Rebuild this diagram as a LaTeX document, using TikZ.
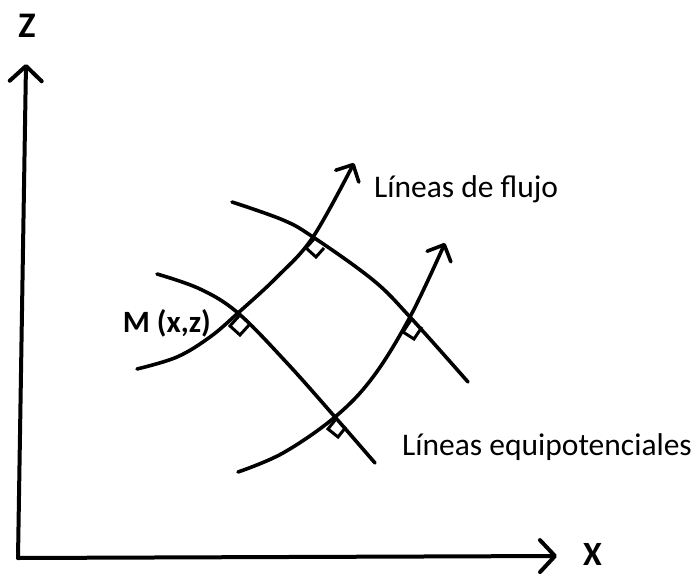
\documentclass[tikz,border=0pt]{standalone}
\usepackage{fontspec}
\setmainfont{Carlito}
\usetikzlibrary{arrows.meta}
\tikzset{
  curve/.style={line width=3.6pt, line cap=round, line join=round},
  axis/.style={line width=4pt, line cap=round, line join=round},
  flowtip/.style={-{Straight Barb[length=13pt,width=26pt,line width=3.6pt,round]}},
  axistip/.style={-{Straight Barb[length=15pt,width=32pt,line width=4pt,round]}},
  sq/.style={line width=3pt, line join=miter},
  lbl/.style={inner sep=0pt, font=\fontsize{31.5}{36}\selectfont, text=black},
  blbl/.style={inner sep=0pt, font=\fontsize{31}{36}\selectfont\bfseries, text=black},
  axlbl/.style={inner sep=0pt, font=\fontsize{36}{40}\selectfont\bfseries, text=black}
}
\begin{document}
\begin{tikzpicture}[x=1pt,y=-1pt]
\useasboundingbox (0,0) rectangle (697,576);
% intersections
\coordinate (M) at (238,313);
\coordinate (A) at (313,237);
\coordinate (B) at (410,317);
\coordinate (C) at (335,417);
\coordinate (O) at (18,558);
\coordinate (ztip) at (26,64);
\coordinate (xtip) at (557,556);
% axes
\draw[axis,axistip] (O) -- (ztip);
\draw[axis,axistip] (O) -- (xtip);
\node[axlbl,anchor=base] (zl) at (27,37) {Z};
\node[axlbl,anchor=base west,font=\fontsize{34}{38}\selectfont\bfseries] (xl) at (583,565) {X};
% flow lines
\draw[curve,flowtip] plot[smooth,tension=0.6] coordinates {(137,369) (177,357) (210,337) (M) (277,277) (A) (354,163)};
\draw[curve,flowtip] plot[smooth,tension=0.6] coordinates {(238,472) (283,453) (C) (373,377) (B) (445,243)};
% equipotential lines
\draw[curve] plot[smooth,tension=0.6] coordinates {(232,202) (283,220) (A) (373,280) (B) (468,382)};
\draw[curve] plot[smooth,tension=0.6] coordinates {(157,274) (200,289) (M) (287,363) (C) (375,463)};
% right-angle marks
\draw[sq] (239,316) -- ++(-9,10) -- ++(10,9) -- ++(9,-10);
\draw[sq] (314,239) -- ++(-8,9) -- ++(10,9) -- ++(8,-9);
\draw[sq] (411,320) -- ++(-8,12) -- ++(11,7) -- ++(8,-12);
\draw[sq] (336,419) -- ++(-8,10) -- ++(10,8) -- ++(8,-10);
% labels
\node[blbl,anchor=base east] (ml) at (211,332) {M (x,z)};
\node[lbl,anchor=base west] (fl) at (374,197) {Líneas de flujo};
\node[lbl,anchor=base west] (el) at (402,455) {Líneas equipotenciales};
\end{tikzpicture}
\end{document}
